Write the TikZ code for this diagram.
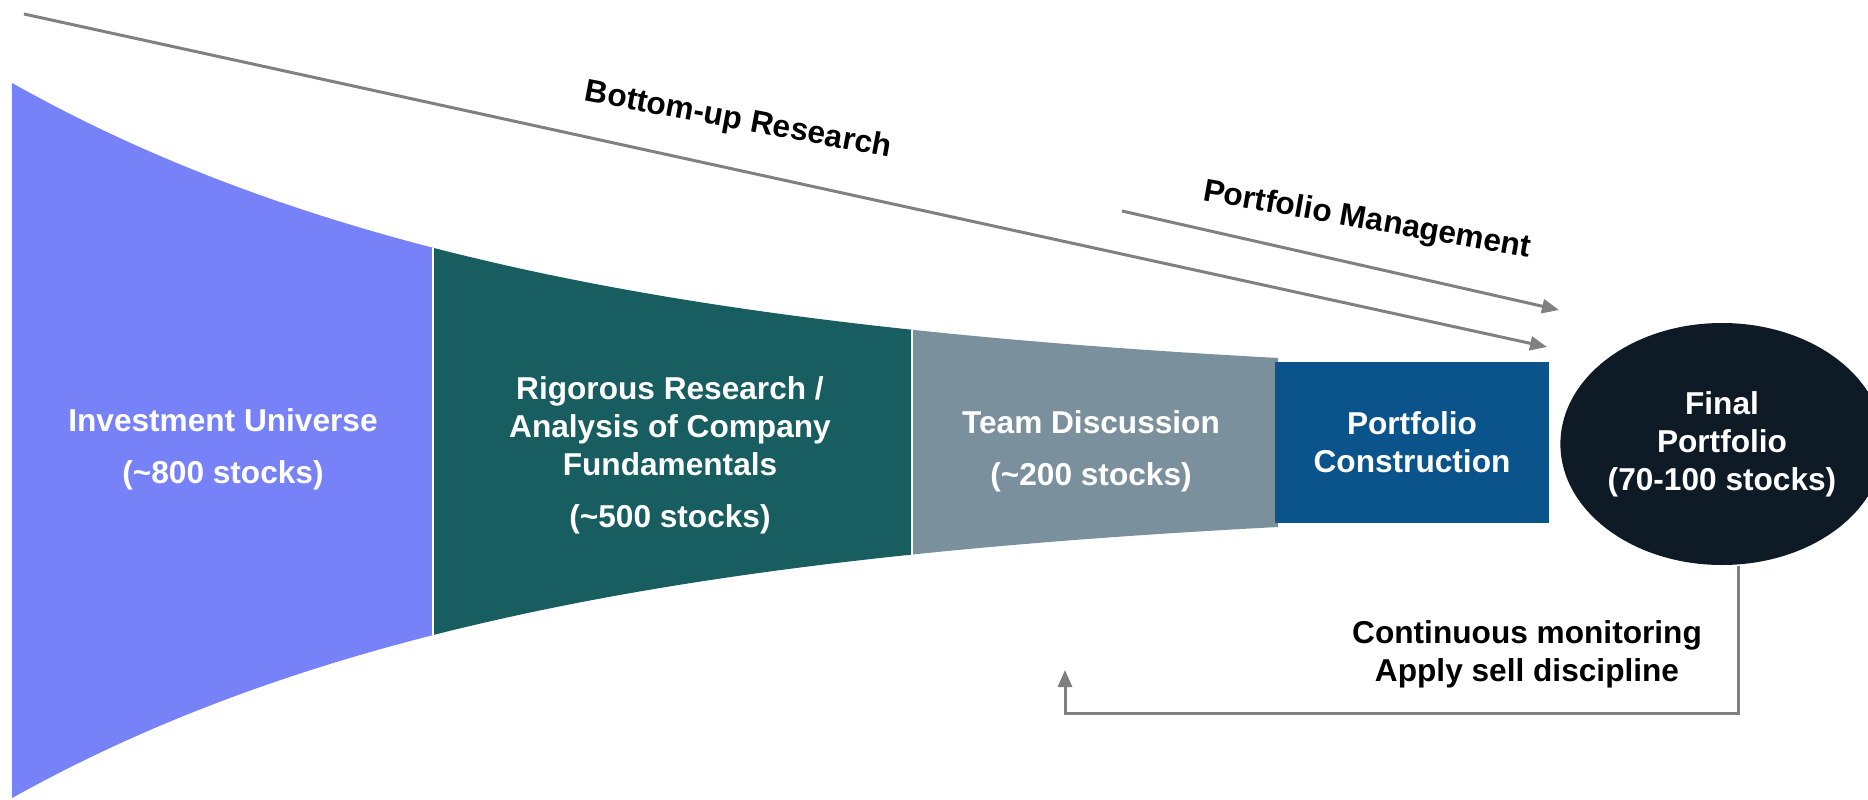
\documentclass[tikz,border=0pt]{standalone}
\usepackage{fontspec}
\setmainfont{Liberation Sans}
\usepackage{xcolor}
\usepackage{tikz}
\usetikzlibrary{arrows.meta,shapes.geometric}

\definecolor{univblue}{RGB}{119,130,249}
\definecolor{researchteal}{RGB}{24,93,95}
\definecolor{teamgray}{RGB}{123,144,157}
\definecolor{constrblue}{RGB}{11,84,139}
\definecolor{finalnavy}{RGB}{15,26,39}
\definecolor{linegray}{RGB}{128,128,128}

\tikzset{
    stagetext/.style={text=white, font=\fontsize{9}{10.8}\selectfont\bfseries, align=center},
    notetext/.style={text=black, font=\fontsize{9}{10.8}\selectfont\bfseries, align=center},
    flowline/.style={draw=linegray, line width=0.85pt},
    flowarrow/.style={flowline, -{Triangle[length=0.17cm,width=0.14cm]}},
    declare function={ftop(\x)=4.12+3.04*exp(-0.1855*(\x-0.12));
                      fbot(\x)=3.00-2.99*exp(-0.187*(\x-0.12));}
}

\begin{document}
\begin{tikzpicture}
    \useasboundingbox (0,0) rectangle (18.68,7.99);

    % funnel
    \fill[univblue] plot[domain=0.12:4.33,samples=40] (\x,{ftop(\x)}) -- plot[domain=4.33:0.12,samples=40] (\x,{fbot(\x)}) -- cycle;
    \fill[researchteal] plot[domain=4.33:9.12,samples=40] (\x,{ftop(\x)}) -- plot[domain=9.12:4.33,samples=40] (\x,{fbot(\x)}) -- cycle;
    \fill[teamgray] plot[domain=9.12:12.78,samples=40] (\x,{ftop(\x)}) -- plot[domain=12.78:9.12,samples=40] (\x,{fbot(\x)}) -- cycle;
    \draw[white, line width=0.3pt] (4.33,{ftop(4.33)}) -- (4.33,{fbot(4.33)});
    \draw[white, line width=0.3pt] (9.12,{ftop(9.12)}) -- (9.12,{fbot(9.12)});
    \fill[constrblue] (12.75,4.37) rectangle (15.49,2.76);

    \node[stagetext] (univ) at (2.23,3.50) {Investment Universe\\[4pt](\textasciitilde800 stocks)};
    \node[stagetext] (research) at (6.70,3.44) {Rigorous Research /\\Analysis of Company\\Fundamentals\\[4pt](\textasciitilde500 stocks)};
    \node[stagetext] (team) at (10.91,3.48) {Team Discussion\\[4pt](\textasciitilde200 stocks)};
    \node[stagetext] (constr) at (14.12,3.565) {Portfolio\\Construction};
    \node[stagetext, ellipse, fill=finalnavy, minimum width=2.96cm, minimum height=2.42cm, inner sep=0pt] (final) at (17.22,3.55) {Final\\Portfolio\\(70-100 stocks)};

    % research arrows
    \coordinate (bustart) at (0.24,7.85);
    \coordinate (buend) at (15.47,4.52);
    \draw[flowarrow] (bustart) -- (buend);
    \coordinate (pmstart) at (11.22,5.88);
    \coordinate (pmend) at (15.59,4.89);
    \draw[flowarrow] (pmstart) -- (pmend);
    \node[notetext, rotate=-10.5] (bottomup) at (7.38,6.78) {Bottom-up Research};
    \node[notetext, rotate=-10] (pm) at (13.67,5.78) {Portfolio Management};

    % feedback loop
    \coordinate (low) at (17.38,0.86);
    \coordinate (back) at (10.65,1.29);
    \draw[flowarrow] (final.south -| low) -- (low) -| (back);
    \node[notetext] (monitor) at (15.27,1.45) {Continuous monitoring\\Apply sell discipline};

\end{tikzpicture}
\end{document}
